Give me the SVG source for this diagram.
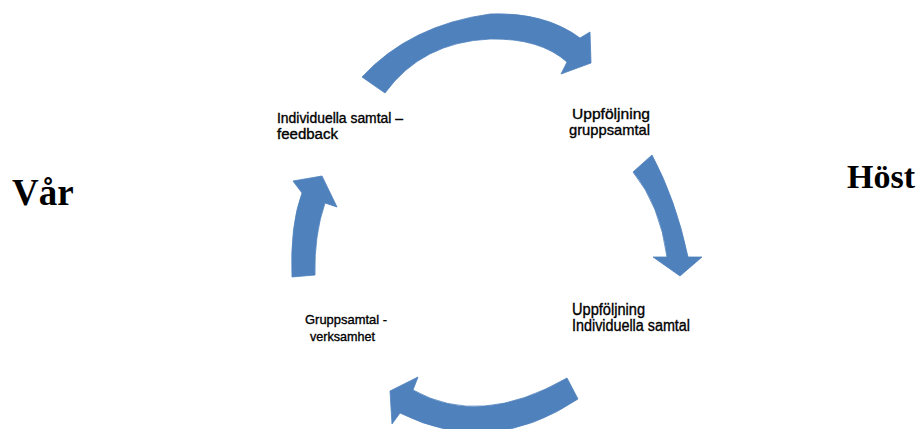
<svg xmlns="http://www.w3.org/2000/svg" width="916" height="429" viewBox="0 0 916 429">
<style>
.arrow{fill:#4F81BD;stroke:#4F81BD;stroke-width:0.8;stroke-linejoin:round}
.lbl{font-family:"Liberation Sans",Arial,sans-serif;fill:#000;stroke:#000;stroke-width:0.35}
.season{font-family:"Liberation Serif","Times New Roman",serif;font-weight:bold;fill:#000}
</style>
<rect width="916" height="429" fill="#fff"/>
<g id="connectors">
<path class="arrow" d="M362,77 Q410,25 490,14 Q545,12 580,38 L590,32 L591,63 L561,74 L567,62 Q540,38 490,39 Q422,42 385,93 Z"/>
<path class="arrow" d="M652,155 Q676,200 688,257 L702,257 L680,276 L653,257 L667,257 Q660,205 633,172 Z"/>
<path class="arrow" d="M567,378 Q480,428 413,390 L418,377 L390,391 L392,424 L400,413 Q490,458 578,399 Z"/>
<path class="arrow" d="M292,277 Q290,225 302,193 L293,181 L322,176 L337,207 L325,203 Q314,235 315,275 Z"/>
</g>
<g id="node-individuella-feedback">
<text class="lbl" font-size="14" x="277" y="123" textLength="126" lengthAdjust="spacingAndGlyphs">Individuella samtal –</text>
<text class="lbl" font-size="14" x="277" y="139" textLength="61" lengthAdjust="spacingAndGlyphs">feedback</text>
</g>
<g id="node-uppfoljning-grupp">
<text class="lbl" font-size="15" x="572" y="119" textLength="78" lengthAdjust="spacingAndGlyphs">Uppföljning</text>
<text class="lbl" font-size="15" x="569" y="135" textLength="81" lengthAdjust="spacingAndGlyphs">gruppsamtal</text>
</g>
<g id="node-uppfoljning-individ">
<text class="lbl" font-size="16" x="572" y="315" textLength="73" lengthAdjust="spacingAndGlyphs">Uppföljning</text>
<text class="lbl" font-size="16" x="572" y="331" textLength="118" lengthAdjust="spacingAndGlyphs">Individuella samtal</text>
</g>
<g id="node-gruppsamtal-verksamhet">
<text class="lbl" font-size="13" x="305" y="324" textLength="82" lengthAdjust="spacingAndGlyphs">Gruppsamtal -</text>
<text class="lbl" font-size="13" x="310" y="341" textLength="65" lengthAdjust="spacingAndGlyphs">verksamhet</text>
</g>
<g id="label-var">
<text class="season" font-size="37" x="12" y="205">Vår</text>
</g>
<g id="label-host">
<text class="season" font-size="34" x="847" y="188">Höst</text>
</g>
</svg>
